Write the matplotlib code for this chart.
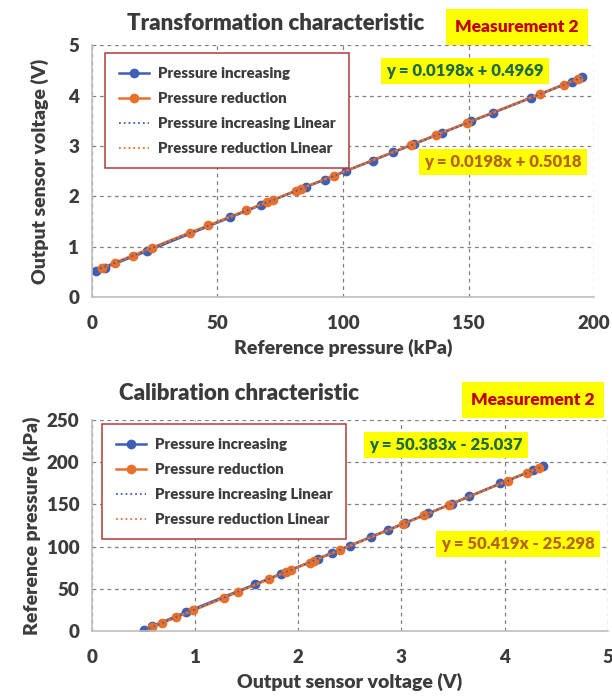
import numpy as np
import matplotlib
matplotlib.use('Agg')
import matplotlib.pyplot as plt

plt.rcParams['font.family'] = ['Lato', 'DejaVu Sans']
plt.rcParams['font.weight'] = 'bold'

# measurement 2 data: pressure (kPa) and sensor output (V)
inc_p = [1.5, 5.1, 22.0, 55.1, 67.5, 85.4, 92.7, 101.0, 111.8, 119.7,
         128.4, 139.4, 150.9, 159.8, 175.0, 191.0, 195.3]
inc_v = [0.51, 0.58, 0.91, 1.58, 1.83, 2.19, 2.33, 2.50, 2.71, 2.87,
         3.04, 3.26, 3.49, 3.66, 3.96, 4.28, 4.37]
red_p = [193.5, 187.8, 178.3, 149.4, 137.1, 127.0, 96.4, 83.1, 81.1, 72.2,
         69.7, 61.5, 46.4, 39.1, 24.1, 16.3, 9.2, 4.2]
red_v = [4.33, 4.22, 4.03, 3.46, 3.22, 3.02, 2.41, 2.15, 2.11, 1.93,
         1.88, 1.72, 1.42, 1.28, 0.98, 0.82, 0.68, 0.58]

# trend line coefficients (slope, intercept) as shown on the chart
fit_tr_inc = [0.0198, 0.4969]
fit_tr_red = [0.0198, 0.5018]
fit_cal_inc = [50.383, -25.037]
fit_cal_red = [50.419, -25.298]

labels = ['Pressure increasing', 'Pressure reduction',
          'Pressure increasing Linear', 'Pressure reduction Linear']

BLUE = '#3F5FB5'
ORANGE = '#E8702A'
TXT = '#3C3C3C'
W, H = 612, 697

fig = plt.figure(figsize=(W / 100, H / 100), dpi=100)


def px(x, y):
    return x / W, 1 - y / H


def style_axes(ax):
    ax.grid(True, linestyle=(0, (3, 3)), color='#808080', linewidth=0.9)
    ax.set_axisbelow(True)
    for s in ['top', 'right']:
        ax.spines[s].set_visible(False)
    for s in ['left', 'bottom']:
        ax.spines[s].set_color('#BFBFBF')
        ax.spines[s].set_linewidth(1.2)
    ax.tick_params(length=0, labelsize=13.5, labelcolor=TXT)
    ax.tick_params(axis='x', pad=13)
    ax.tick_params(axis='y', pad=9)
    for t in ax.get_xticklabels() + ax.get_yticklabels():
        t.set_fontweight('heavy')


def draw(ax, x1, y1, x2, y2, f1, f2):
    l1, = ax.plot(x1, y1, '-o', color=BLUE, lw=1.8, ms=6)
    l2, = ax.plot(x2, y2, '-o', color=ORANGE, lw=1.8, ms=6)
    xa = np.array([min(x1), max(x1)])
    xb = np.array([min(x2), max(x2)])
    l3, = ax.plot(xa, f1[0] * xa + f1[1], ':', color=BLUE, lw=1.3)
    l4, = ax.plot(xb, f2[0] * xb + f2[1], ':', color=ORANGE, lw=1.3)
    return [l1, l2, l3, l4]


def add_legend(ax, handles, anchor):
    leg = ax.legend(handles, labels, loc='upper left', bbox_to_anchor=anchor,
                    fancybox=False, framealpha=1, edgecolor='#B03A3A',
                    prop={'weight': 'heavy', 'size': 10.8}, labelspacing=0.8,
                    handlelength=2.0, handletextpad=0.6, borderpad=0.9,
                    borderaxespad=0)
    leg.get_frame().set_linewidth(1.1)
    for t in leg.get_texts():
        t.set_color(TXT)


def box_text(x, y, s, color, size, pad=0.3):
    fig.text(*px(x, y), s, ha='center', va='center', color=color,
             fontsize=size, fontweight='heavy',
             bbox=dict(boxstyle='square,pad=%s' % pad, fc='#FFFF00', ec='none'))


def set_labels(ax, xl, yl, ypad):
    ax.set_xlabel(xl, fontsize=14, fontweight='heavy', color=TXT, labelpad=5)
    ax.set_ylabel(yl, fontsize=14, fontweight='heavy', color=TXT,
                  labelpad=ypad)


# top: transformation characteristic
ax1 = fig.add_axes([0.150, 0.574, 0.821, 0.361])
h = draw(ax1, inc_p, inc_v, red_p, red_v, fit_tr_inc, fit_tr_red)
ax1.set_xlim(0, 200)
ax1.set_ylim(0, 5)
ax1.set_xticks([0, 50, 100, 150, 200])
ax1.set_yticks([0, 1, 2, 3, 4, 5])
style_axes(ax1)
set_labels(ax1, 'Reference pressure (kPa)', 'Output sensor voltage (V)', 14)
add_legend(ax1, h, (0.027, 0.968))

# bottom: calibration characteristic
ax2 = fig.add_axes([0.150, 0.095, 0.843, 0.302])
h = draw(ax2, inc_v, inc_p, red_v, red_p, fit_cal_inc, fit_cal_red)
ax2.set_xlim(0, 5)
ax2.set_ylim(0, 250)
ax2.set_xticks([0, 1, 2, 3, 4, 5])
ax2.set_yticks([0, 50, 100, 150, 200, 250])
style_axes(ax2)
set_labels(ax2, 'Output sensor voltage (V)', 'Reference pressure (kPa)', 4)
add_legend(ax2, h, (0.02, 0.981))

# titles and annotations
fig.text(*px(276, 23), 'Transformation characteristic', ha='center',
         va='center', fontsize=16, fontweight='heavy', color='#3A3A3A')
fig.text(*px(239, 393), 'Calibration chracteristic', ha='center',
         va='center', fontsize=16, fontweight='heavy', color='#3A3A3A')
box_text(517, 27, 'Measurement 2', '#C00000', 12.5, 0.55)
box_text(533, 400, 'Measurement 2', '#C00000', 12.5, 0.55)
box_text(465, 71, 'y = 0.0198x + 0.4969', '#1F6B45', 12)
box_text(503, 162, 'y = 0.0198x + 0.5018', '#B5651D', 12)
box_text(446, 445, 'y = 50.383x - 25.037', '#1F6B45', 12)
box_text(518, 544, 'y = 50.419x - 25.298', '#B5651D', 12)

fig.savefig('out.png', dpi=100)
